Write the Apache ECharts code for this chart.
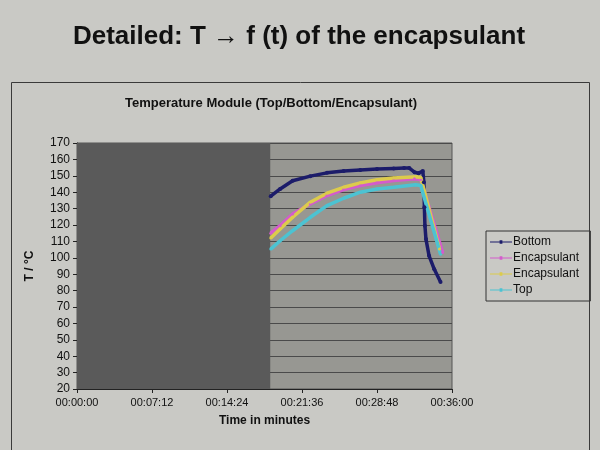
<!DOCTYPE html>
<html>
<head>
<meta charset="utf-8">
<script src="https://cdn.jsdelivr.net/npm/echarts@6/dist/echarts.min.js"></script>
<style>html,body{margin:0;padding:0;background:#c9c9c5;}#c{width:600px;height:450px;}</style>
</head>
<body>
<div id="c"></div>
<script>
// time in minutes
const bottomT = [18.6, 19.5, 20.7, 22.4, 24.0, 25.6, 27.2, 28.8, 30.4, 31.4, 31.9, 32.4, 32.8, 33.2, 33.3, 33.35, 33.4, 33.5, 33.8, 34.3, 34.9];
const bottomV = [137.6, 142, 147, 149.8, 151.8, 152.9, 153.5, 154.1, 154.5, 154.7, 154.7, 152.2, 151.6, 152.9, 146, 130.8, 119.6, 111.4, 101.2, 93, 85.3];
const encATime = [18.6, 19.5, 20.7, 22.4, 24.0, 25.6, 27.2, 28.8, 30.4, 32.4, 33.0, 35.1];
const encAV = [115, 119.6, 126.7, 132.9, 138, 141.6, 144, 145.7, 147.1, 148.2, 147.8, 103.3];
const encBTime = [18.6, 19.5, 20.7, 22.4, 24.0, 25.6, 27.2, 28.8, 30.4, 32.6, 33.0, 34.8];
const encBV = [112, 117.6, 124.7, 133.9, 139.4, 143, 145.7, 147.6, 148.6, 149.4, 149, 105.3];
const topT = [18.6, 19.5, 20.7, 22.4, 24.0, 25.6, 27.2, 28.8, 30.4, 32.5, 33.0, 34.9];
const topV = [105.3, 110.4, 116.5, 124.7, 131.8, 136.3, 140, 142, 143, 144.5, 144.1, 102.2];
const seriesNames = ['Bottom', 'Encapsulant', 'Encapsulant ', 'Top'];
const redactedUntil = 18.55; // minutes hidden by the grey box

function pairs(t, v) { return t.map((x, i) => [x, v[i]]); }
function fmt(v) {
  const s = Math.round(v * 60);
  const p = n => String(n).padStart(2, '0');
  return p(Math.floor(s / 3600)) + ':' + p(Math.floor((s % 3600) / 60)) + ':' + p(s % 60);
}

const chart = echarts.init(document.getElementById('c'));
const font = 'Liberation Sans, Arial, sans-serif';
const mk = (name, data, color, sym) => ({
  name, type: 'line', data, smooth: false,
  showSymbol: true, symbol: 'circle', symbolSize: sym,
  lineStyle: { color, width: 3.5 }, itemStyle: { color },
  emphasis: { disabled: true }, animation: false
});
const s0 = mk(seriesNames[0], pairs(bottomT, bottomV), '#1c1c6a', 4);
s0.markArea = {
  silent: true,
  itemStyle: { color: '#5a5a5a', opacity: 1 },
  data: [[{ xAxis: 0, yAxis: 20 }, { xAxis: redactedUntil, yAxis: 170 }]]
};
const legendIcon = 'path://M0,5.5h24v1h-24z M10.5,4h3v4h-3z';
chart.setOption({
  backgroundColor: '#c9c9c5',
  textStyle: { fontFamily: font },
  title: [
    { text: 'Detailed: T → f (t) of the encapsulant', left: 294, top: 19, textAlign: 'center',
      textStyle: { fontSize: 26, fontWeight: 'bold', color: '#111', fontFamily: font } },
    { text: 'Temperature Module (Top/Bottom/Encapsulant)', left: 266, top: 92, textAlign: 'center',
      textStyle: { fontSize: 13, fontWeight: 'bold', color: '#111', fontFamily: font } }
  ],
  graphic: [{
    type: 'rect', shape: { x: 11.5, y: 82.5, width: 578, height: 400 },
    style: { fill: 'none', stroke: '#3a3a3a', lineWidth: 1 }, silent: true, z: -1
  }],
  legend: {
    orient: 'vertical', left: 486, top: 231, padding: [5, 8, 5, 4], itemGap: 4,
    itemWidth: 22, itemHeight: 12,
    borderColor: '#333', borderWidth: 1,
    textStyle: { fontSize: 12, color: '#111', fontFamily: font, padding: [0, 0, 0, -4] },
    data: seriesNames.map(n => ({ name: n, icon: legendIcon }))
  },
  grid: { left: 77, right: 148, top: 143, bottom: 61, show: true,
    backgroundColor: '#979792', borderColor: '#555', borderWidth: 1 },
  xAxis: {
    type: 'value', min: 0, max: 36, interval: 7.2,
    name: 'Time in minutes', nameLocation: 'middle', nameGap: 26,
    nameTextStyle: { fontSize: 12, fontWeight: 'bold', color: '#111', fontFamily: font },
    axisLine: { show: true, lineStyle: { color: '#222' } },
    axisTick: { show: true, length: 4, lineStyle: { color: '#222' } },
    axisLabel: { formatter: fmt, fontSize: 11, color: '#111', margin: 8 },
    splitLine: { show: false }
  },
  yAxis: {
    type: 'value', min: 20, max: 170, interval: 10,
    name: 'T / °C', nameLocation: 'middle', nameGap: 41, nameRotate: 90,
    nameTextStyle: { fontSize: 12, fontWeight: 'bold', color: '#111', fontFamily: font },
    axisLine: { show: true, lineStyle: { color: '#222' } },
    axisTick: { show: true, length: 4, lineStyle: { color: '#222' } },
    axisLabel: { fontSize: 12, color: '#111', margin: 7 },
    splitLine: { show: true, lineStyle: { color: '#4a4a4a', width: 1 } }
  },
  series: [
    s0,
    mk(seriesNames[1], pairs(encATime, encAV), '#d35ccc', 3),
    mk(seriesNames[2], pairs(encBTime, encBV), '#dccb4c', 3),
    mk(seriesNames[3], pairs(topT, topV), '#4cc3d2', 3)
  ]
});
</script>
</body>
</html>
